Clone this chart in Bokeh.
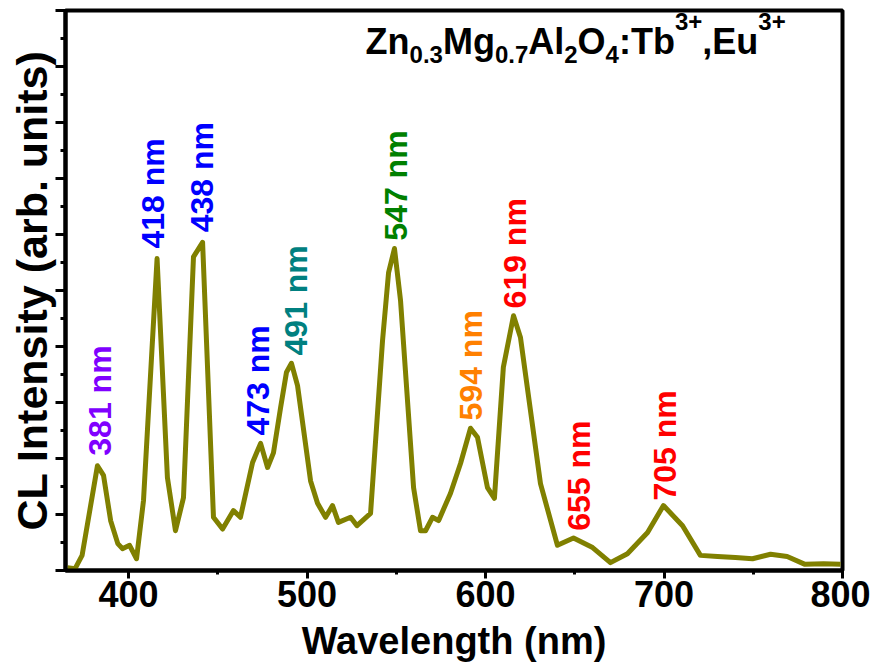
from bokeh.plotting import figure
from bokeh.models import FixedTicker, Label, Range1d, CustomJSTickFormatter
from bokeh.core.properties import value
from bokeh.embed import file_html
from bokeh.resources import INLINE

# ---- data ----
wavelength = [365.8, 370, 374, 382.6, 386, 390, 394, 396.6, 400.6, 404.5,
              408.4, 416.0, 421.8, 426.3, 430.8, 436.4, 441.5, 447.6, 452.7,
              458.8, 462.7, 469.5, 474.0, 477.9, 481.2, 485.2, 488.5, 491.3,
              494.7, 502.0, 505.9, 510.4, 514.3, 517.6, 524.4, 528.0, 535.6,
              542.3, 545.7, 549.0, 552.4, 559.7, 563.6, 566.4, 570.3, 573.7,
              580.4, 586.0, 591.6, 595.5, 601.1, 605.0, 610.0, 615.7, 619.6,
              630.8, 640.3, 649.3, 660.0, 670.0, 679.5, 690.8, 699.7, 710.4,
              720.4, 730.0, 740.0, 749.6, 759.7, 769.0, 779.0, 789.4, 798.9]
intensity = [0.05, 0.03, 0.27, 1.87, 1.70, 0.89, 0.48, 0.39, 0.45, 0.21,
             1.25, 5.57, 1.66, 0.71, 1.30, 5.60, 5.86, 0.95, 0.74,
             1.07, 0.95, 1.93, 2.27, 1.84, 2.10, 2.91, 3.54, 3.70,
             3.30, 1.60, 1.20, 0.95, 1.16, 0.86, 0.95, 0.80, 1.02,
             4.10, 5.32, 5.75, 4.82, 1.48, 0.71, 0.71, 0.95, 0.89,
             1.38, 1.91, 2.54, 2.38, 1.48, 1.29, 3.63, 4.55, 4.16,
             1.55, 0.45, 0.58, 0.41, 0.14, 0.30, 0.68, 1.16, 0.80,
             0.27, 0.25, 0.23, 0.21, 0.29, 0.25, 0.11, 0.12, 0.11]

peak_labels = ["381 nm", "418 nm", "438 nm", "473 nm", "491 nm",
               "547 nm", "594 nm", "619 nm", "655 nm", "705 nm"]
label_x = [384.3, 414.0, 440.9, 472.8, 494.1, 549.6, 591.6, 616.8, 652.1, 700.3]
label_y = [2.05, 5.75, 6.04, 2.41, 3.84, 5.89, 2.68, 4.68, 0.71, 1.25]
label_colors = ["#8000FF", "#0000FF", "#0000FF", "#0000FF", "#008080",
                "#008000", "#FF8000", "#FF0000", "#FF0000", "#FF0000"]

x_ticks = [400, 500, 600, 700, 800]
x_minor = [450, 550, 650, 750]
y_ticks = [0, 1, 2, 3, 4, 5, 6, 7, 8, 9, 10]
y_minor = [0.5, 1.5, 2.5, 3.5, 4.5, 5.5, 6.5, 7.5, 8.5, 9.5]

# title pieces: (text, role)
title_parts = [("Zn", "main"), ("0.3", "sub"), ("Mg", "main"), ("0.7", "sub"),
               ("Al", "main"), ("2", "sub"), ("O", "main"), ("4", "sub"),
               (":Tb", "main"), ("3+", "sup"), (",Eu", "main"), ("3+", "sup")]

FONT = "Liberation Sans"

p = figure(width=870, height=666, output_backend="svg", toolbar_location=None,
           x_range=Range1d(364.7, 800), y_range=Range1d(0, 10),
           min_border_left=65, min_border_right=28, min_border_top=10,
           min_border_bottom=96)
p.background_fill_color = "white"
p.border_fill_color = "white"
p.grid.visible = False
p.outline_line_color = "black"
p.outline_line_width = 4

p.line(wavelength, intensity, line_color="#808000", line_width=5,
       line_join="round")

p.text(x=label_x, y=label_y, text=peak_labels, text_color=label_colors,
       angle=90, angle_units="deg", text_align="left", text_baseline="middle",
       text_font=value(FONT), text_font_style="bold", text_font_size="32px")

# x axis
xa = p.xaxis[0]
xa.ticker = FixedTicker(ticks=x_ticks, minor_ticks=x_minor)
xa.axis_line_width = 4
xa.major_tick_line_width = 3
xa.minor_tick_line_width = 3
xa.major_tick_out = 8
xa.major_tick_in = 0
xa.minor_tick_out = 4
xa.minor_tick_in = 0
xa.major_label_standoff = 2
xa.major_label_text_font = FONT
xa.major_label_text_font_style = "bold"
xa.major_label_text_font_size = "36px"
xa.major_label_text_color = "black"
xa.axis_label = "Wavelength (nm)"
xa.axis_label_text_font = FONT
xa.axis_label_text_font_style = "bold"
xa.axis_label_text_font_size = "38px"
xa.axis_label_text_color = "black"
xa.axis_label_standoff = 10

# y axis (ticks only, no tick labels)
ya = p.yaxis[0]
ya.ticker = FixedTicker(ticks=y_ticks, minor_ticks=y_minor)
ya.formatter = CustomJSTickFormatter(code="return ''")
ya.axis_line_width = 4
ya.major_tick_line_width = 3
ya.minor_tick_line_width = 3
ya.major_tick_out = 10
ya.major_tick_in = 0
ya.minor_tick_out = 5
ya.minor_tick_in = 0
ya.major_label_standoff = 0
ya.axis_label = "CL Intensity (arb. units)"
ya.axis_label_text_font = FONT
ya.axis_label_text_font_style = "bold"
ya.axis_label_text_font_size = "43px"
ya.axis_label_text_color = "black"
ya.axis_label_standoff = 0

# title built from pieces (Arial/Liberation bold advance widths)
adv = {"Z": .611, "n": .611, "M": .833, "g": .611, "A": .722, "l": .278,
       "O": .778, ":": .333, "T": .611, "b": .611, ",": .278, "E": .667,
       "u": .611, "0": .556, ".": .278, "3": .556, "7": .556, "2": .556,
       "4": .556, "+": .584}
main_size, small_size = 36, 24
title_x = 532.8
base_y = 9.45
role_y = {"main": base_y, "sub": base_y - 0.23, "sup": base_y + 0.36}
offset = 0.0
for txt, role in title_parts:
    size = main_size if role == "main" else small_size
    p.add_layout(Label(x=title_x, y=role_y[role], x_offset=offset, text=txt,
                       text_font=FONT, text_font_style="bold",
                       text_font_size=f"{size}px", text_color="black",
                       text_baseline="alphabetic", text_align="left"))
    offset += sum(adv[c] for c in txt) * size

open("out.html", "w").write(file_html(p, INLINE))
